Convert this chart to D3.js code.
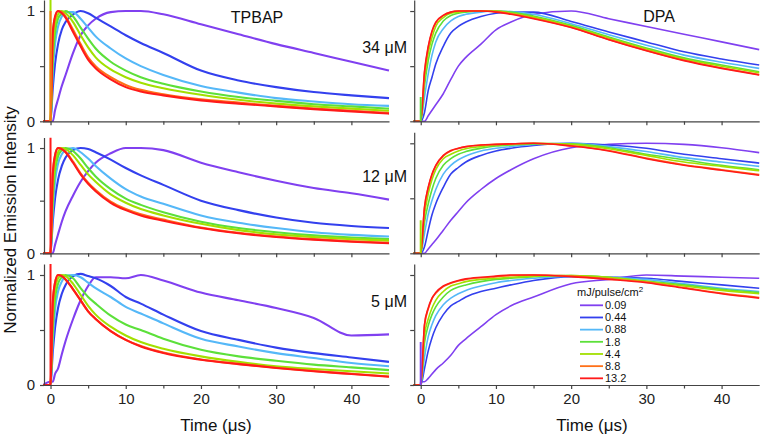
<!DOCTYPE html>
<html><head><meta charset="utf-8">
<script src="https://cdn.jsdelivr.net/npm/d3@7/dist/d3.min.js"></script>
<style>
body{margin:0;background:#fff;}
svg{display:block;font-family:"Liberation Sans",Arial,sans-serif;}
</style></head>
<body><svg id="chart" width="760" height="436"></svg>
<script>
// ---------- data ----------
const energies = ["0.09","0.44","0.88","1.8","4.4","8.8","13.2"];
const colors = ["#8040F0","#3340EE","#55B8F8","#5CE03A","#A2E000","#FF7018","#FF1A1A"];
const xTicks = [0,10,20,30,40];
const xMinor = [5,15,25,35];
const yTicks = [0,0.5,1];

const timeL = [-1,-0.05,0,0.3,0.6,1,1.5,2,3,4,5,6,8,10,12,15,20,25,30,35,40,45];
const timeR = [-1,-0.05,0,0.5,1,1.5,2,3,4,5,6,8,10,12,15,20,25,30,35,40,45];

// TPBAP 34 uM (rows = energies)
const tpbap34 = [
 [0,0,0,0,0.1,0.2,0.32,0.42,0.62,0.78,0.87,0.93,0.99,1.0,1.0,0.97,0.88,0.79,0.70,0.62,0.54,0.46],
 [0,0,0,0.3,0.52,0.7,0.83,0.9,0.97,1.0,0.98,0.94,0.86,0.78,0.71,0.62,0.46,0.37,0.31,0.265,0.235,0.21],
 [0,0,0,0.45,0.7,0.86,0.95,0.99,0.99,0.93,0.85,0.77,0.66,0.57,0.5,0.42,0.32,0.26,0.21,0.18,0.155,0.14],
 [0,0,0,0.55,0.8,0.93,0.98,1.0,0.95,0.85,0.75,0.66,0.54,0.46,0.40,0.34,0.27,0.22,0.185,0.155,0.135,0.115],
 [0,0,0,0.65,0.88,0.97,1.0,0.98,0.9,0.78,0.67,0.58,0.47,0.40,0.35,0.30,0.24,0.195,0.16,0.135,0.115,0.095],
 [0,0,0,0.78,0.94,1.0,0.99,0.95,0.83,0.70,0.58,0.50,0.40,0.33,0.285,0.245,0.20,0.17,0.14,0.115,0.095,0.075],
 [0,0,0,0.8,0.95,1.0,0.98,0.94,0.81,0.68,0.56,0.48,0.38,0.31,0.27,0.235,0.19,0.16,0.135,0.11,0.09,0.07]
];
// TPBAP 12 uM
const tpbap12 = [
 [0,0,0,0,0.08,0.18,0.3,0.4,0.55,0.68,0.78,0.86,0.95,1.0,1.0,0.98,0.86,0.77,0.69,0.62,0.57,0.51],
 [0,0,0,0.3,0.52,0.7,0.83,0.91,0.98,1.0,0.99,0.96,0.89,0.81,0.74,0.65,0.50,0.41,0.34,0.29,0.26,0.24],
 [0,0,0,0.4,0.68,0.85,0.94,0.98,1.0,0.96,0.9,0.83,0.71,0.61,0.54,0.47,0.36,0.29,0.24,0.2,0.175,0.16],
 [0,0,0,0.5,0.78,0.92,0.98,1.0,0.97,0.9,0.81,0.73,0.61,0.52,0.46,0.39,0.30,0.24,0.2,0.17,0.15,0.135],
 [0,0,0,0.6,0.85,0.96,1.0,0.99,0.93,0.84,0.75,0.68,0.56,0.48,0.42,0.36,0.28,0.22,0.18,0.155,0.135,0.12],
 [0,0,0,0.74,0.93,1.0,0.99,0.965,0.87,0.76,0.67,0.6,0.49,0.42,0.37,0.32,0.245,0.195,0.16,0.135,0.115,0.1],
 [0,0,0,0.75,0.93,1.0,0.99,0.96,0.86,0.75,0.66,0.59,0.48,0.41,0.36,0.31,0.24,0.19,0.155,0.13,0.11,0.095]
];
// TPBAP 5 uM
const tpbap5 = [
 [0,0.03,0.03,0.03,0.1,0.15,0.28,0.4,0.6,0.77,0.9,0.98,0.98,0.97,1.0,0.95,0.84,0.77,0.7,0.61,0.45,0.46],
 [0,0,0,0.3,0.52,0.7,0.83,0.91,0.99,1.01,0.99,0.97,0.9,0.8,0.74,0.64,0.49,0.41,0.34,0.29,0.25,0.21],
 [0,0,0,0.4,0.68,0.85,0.94,0.99,1.0,0.98,0.93,0.88,0.8,0.71,0.65,0.56,0.42,0.35,0.29,0.245,0.2,0.17],
 [0,0,0,0.5,0.78,0.92,0.98,1.0,0.97,0.88,0.8,0.74,0.63,0.55,0.5,0.42,0.32,0.26,0.22,0.185,0.16,0.135],
 [0,0,0,0.62,0.86,0.97,1.0,0.99,0.92,0.82,0.72,0.64,0.53,0.45,0.39,0.33,0.26,0.21,0.17,0.145,0.125,0.105],
 [0,0,0,0.74,0.93,1.0,0.99,0.96,0.87,0.77,0.67,0.6,0.49,0.41,0.355,0.295,0.232,0.192,0.157,0.127,0.102,0.077],
 [0,0,0,0.75,0.93,1.0,0.99,0.96,0.87,0.77,0.67,0.6,0.49,0.41,0.35,0.29,0.23,0.19,0.155,0.125,0.1,0.075]
];
// DPA 34 uM
const dpa34 = [
 [0,0,0,0,0.05,0.1,0.15,0.25,0.38,0.5,0.58,0.7,0.83,0.9,0.97,1.0,0.93,0.86,0.79,0.72,0.65],
 [0,0,0,0.08,0.28,0.4,0.52,0.68,0.8,0.86,0.9,0.95,0.98,0.99,0.99,0.905,0.81,0.72,0.63,0.565,0.51],
 [0,0,0,0.22,0.43,0.6,0.72,0.84,0.91,0.95,0.97,0.99,1.0,0.995,0.97,0.885,0.785,0.69,0.60,0.535,0.48],
 [0,0,0,0.32,0.55,0.7,0.8,0.91,0.96,0.98,0.99,1.0,1.0,0.99,0.955,0.87,0.765,0.665,0.575,0.51,0.45],
 [0,0,0,0.38,0.62,0.76,0.86,0.94,0.98,0.99,1.0,1.0,1.0,0.98,0.945,0.86,0.755,0.655,0.565,0.50,0.44],
 [0,0,0,0.44,0.67,0.81,0.89,0.96,0.99,1.0,1.0,1.0,0.995,0.975,0.935,0.852,0.743,0.643,0.553,0.483,0.423],
 [0,0,0,0.45,0.68,0.82,0.9,0.96,0.99,1.0,1.0,1.0,0.99,0.97,0.93,0.85,0.74,0.64,0.55,0.48,0.42]
];
// DPA 12 uM
const dpa12 = [
 [0,0,0,0,0.04,0.08,0.12,0.21,0.3,0.38,0.46,0.58,0.68,0.76,0.86,0.96,0.99,1.0,0.99,0.96,0.915],
 [0,0,0,0.06,0.21,0.35,0.45,0.6,0.72,0.78,0.83,0.89,0.93,0.955,0.98,1.0,0.985,0.955,0.9,0.86,0.82],
 [0,0,0,0.18,0.36,0.48,0.58,0.72,0.8,0.85,0.885,0.93,0.955,0.97,0.99,1.0,0.97,0.925,0.87,0.83,0.79],
 [0,0,0,0.28,0.45,0.58,0.68,0.8,0.86,0.9,0.925,0.955,0.975,0.985,0.995,0.995,0.96,0.9,0.85,0.8,0.76],
 [0,0,0,0.35,0.54,0.67,0.76,0.86,0.9,0.93,0.95,0.97,0.985,0.99,1.0,0.99,0.95,0.89,0.83,0.79,0.75],
 [0,0,0,0.41,0.595,0.715,0.795,0.885,0.93,0.953,0.968,0.983,0.99,0.995,1.0,0.978,0.935,0.865,0.805,0.76,0.715],
 [0,0,0,0.42,0.6,0.72,0.8,0.89,0.935,0.955,0.97,0.985,0.99,0.995,1.0,0.975,0.93,0.86,0.8,0.755,0.71]
];
// DPA 5 uM
const dpa5 = [
 [0,0,0.03,0.03,0.06,0.1,0.14,0.2,0.27,0.36,0.42,0.53,0.64,0.72,0.8,0.92,0.96,1.0,0.99,0.98,0.97],
 [0,0,0,0.15,0.31,0.43,0.52,0.64,0.72,0.76,0.8,0.85,0.88,0.91,0.95,0.985,0.98,0.97,0.94,0.91,0.88],
 [0,0,0,0.25,0.44,0.55,0.63,0.73,0.79,0.83,0.86,0.9,0.93,0.95,0.97,0.99,0.98,0.96,0.92,0.88,0.85],
 [0,0,0,0.38,0.54,0.64,0.71,0.8,0.86,0.89,0.91,0.94,0.96,0.97,0.985,0.995,0.98,0.945,0.91,0.87,0.84],
 [0,0,0,0.45,0.6,0.7,0.77,0.85,0.9,0.92,0.94,0.96,0.97,0.98,0.99,0.995,0.98,0.94,0.9,0.86,0.83],
 [0,0,0,0.54,0.69,0.785,0.835,0.895,0.925,0.945,0.96,0.975,0.985,0.995,1.0,0.99,0.965,0.935,0.885,0.835,0.795],
 [0,0,0,0.55,0.7,0.79,0.84,0.9,0.93,0.95,0.965,0.98,0.99,1.0,1.0,0.985,0.96,0.93,0.88,0.83,0.79]
];
// scatter spikes at t = 0: [row, col, series index, peak value]
const spikes = [[0,0,4,1.1],[0,0,5,1.0],[1,0,6,1.1],[2,0,6,1.1],[0,1,3,0.22],[1,1,4,0.3],[2,1,0,0.39]];

const titles = ["TPBAP","DPA"];
const concLabels = ["34 \u03BCM","12 \u03BCM","5 \u03BCM"];

// ---------- layout ----------
const svg = d3.select("#chart");
const colX = [[43,389],[413.2,759.2]];
const rowY = [ [[121.3,0],[121.3,0]], [[253.3,137.5],[253.3,132.3]], [[385,264],[385,264]] ];
const panels = [
 {row:0,col:0,data:tpbap34,t:timeL},{row:0,col:1,data:dpa34,t:timeR},
 {row:1,col:0,data:tpbap12,t:timeL},{row:1,col:1,data:dpa12,t:timeR},
 {row:2,col:0,data:tpbap5,t:timeL},{row:2,col:1,data:dpa5,t:timeR}
];
const axisColor = "#444";

panels.forEach((p,i)=>{
  const x = d3.scaleLinear().domain([-1,45]).range(colX[p.col]);
  const y = d3.scaleLinear().domain([0,1.1]).range(rowY[p.row][p.col]);
  const g = svg.append("g");
  const clipId = "clip"+i;
  svg.append("clipPath").attr("id",clipId).append("rect")
    .attr("x",x.range()[0]).attr("y",y.range()[1])
    .attr("width",x.range()[1]-x.range()[0]+1).attr("height",y.range()[0]-y.range()[1]+1);
  const lw = p.col===0 ? 2.1 : 1.6;
  const line = d3.line().x((d,j)=>x(p.t[j])).y(d=>y(d)).curve(d3.curveMonotoneX);
  const lines = g.append("g").attr("clip-path",`url(#${clipId})`);
  p.data.forEach((vals,k)=>{
    lines.append("path").attr("d",line(vals)).attr("fill","none")
      .attr("stroke",colors[k]).attr("stroke-width",lw).attr("stroke-linejoin","round");
  });
  spikes.filter(s=>s[0]===p.row && s[1]===p.col).forEach(s=>{
    lines.append("line").attr("x1",x(0)).attr("x2",x(0)).attr("y1",y(0)).attr("y2",y(s[3]))
      .attr("stroke",colors[s[2]]).attr("stroke-width",2);
  });
  // axes
  const bottom = p.row===2;
  const xa = g.append("g").attr("transform",`translate(0,${y(0)})`)
    .call(d3.axisBottom(x).tickValues(xTicks).tickSize(4).tickSizeOuter(0).tickPadding(4)
      .tickFormat(bottom? d3.format("d") : ()=>""));
  const xm = g.append("g").attr("transform",`translate(0,${y(0)})`)
    .call(d3.axisBottom(x).tickValues(xMinor).tickSize(3.5).tickSizeOuter(0).tickFormat(()=>""));
  xm.select(".domain").remove();
  const ya = g.append("g").attr("transform",`translate(${x(-1)+1},0)`)
    .call(d3.axisLeft(y).tickValues(yTicks).tickSize(4).tickSizeOuter(0).tickPadding(5)
      .tickFormat(d=> (p.col===0 && d!==0.5) ? d3.format("d")(d) : ""));
  [xa,xm,ya].forEach(a=>{
    a.selectAll(".domain").attr("stroke",axisColor).attr("stroke-width",1.2);
    a.selectAll(".tick line").attr("stroke",axisColor).attr("stroke-width",1.2);
    a.selectAll(".tick text").attr("fill","#222").style("font-size","15px")
      .style("font-family","'Liberation Sans',Arial,sans-serif");
  });
  // concentration labels (left column)
  if(p.col===0){
    const base = [53,182,307][p.row];
    svg.append("text").attr("x",407).attr("y",base).attr("text-anchor","end")
      .style("font-size","16px").attr("fill","#111").text(concLabels[p.row]);
  }
});

// titles
svg.append("text").attr("x",257).attr("y",23).attr("text-anchor","middle").style("font-size","16px").attr("fill","#111").text(titles[0]);
svg.append("text").attr("x",659).attr("y",22).attr("text-anchor","middle").style("font-size","16px").attr("fill","#111").text(titles[1]);
// axis titles
svg.append("text").attr("x",216).attr("y",431).attr("text-anchor","middle").style("font-size","17px").attr("fill","#111").text("Time (\u03BCs)");
svg.append("text").attr("x",592).attr("y",431).attr("text-anchor","middle").style("font-size","17px").attr("fill","#111").text("Time (\u03BCs)");
svg.append("text").attr("transform","translate(16,220) rotate(-90)").attr("text-anchor","middle")
  .style("font-size","17px").attr("fill","#111").text("Normalized Emission Intensity");

// legend
const lg = svg.append("g");
const lt = lg.append("text").attr("x",577).attr("y",295.5).style("font-size","11px").attr("fill","#111");
lt.append("tspan").text("mJ/pulse/cm");
lt.append("tspan").attr("dy",-4).style("font-size","8px").text("2");
energies.forEach((e,k)=>{
  const yy = 305.3 + k*12.17;
  lg.append("line").attr("x1",580).attr("x2",603).attr("y1",yy).attr("y2",yy).attr("stroke",colors[k]).attr("stroke-width",1.8);
  lg.append("text").attr("x",605).attr("y",yy).attr("dy","0.35em").style("font-size","11px").attr("fill","#111").text(e);
});
</script>
</body></html>
